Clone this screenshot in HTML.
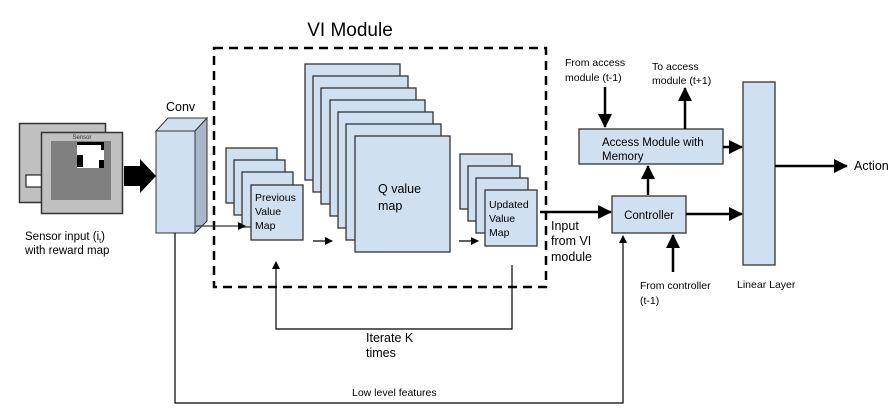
<!DOCTYPE html>
<html><head><meta charset="utf-8"><style>
html,body{margin:0;padding:0;background:#fff;}
svg{display:block;font-family:"Liberation Sans",sans-serif;}
</style></head><body>
<svg width="895" height="416" viewBox="0 0 895 416" xmlns="http://www.w3.org/2000/svg">
<defs>
<marker id="a" markerWidth="8" markerHeight="8" refX="7" refY="4" orient="auto" markerUnits="userSpaceOnUse"><path d="M0,0 L8,4 L0,8 z" fill="#000"/></marker>
<marker id="b" markerWidth="14" markerHeight="14" refX="13" refY="7" orient="auto" markerUnits="userSpaceOnUse"><path d="M0,0 L14,7 L0,14 z" fill="#000"/></marker>
</defs>
<!-- sensor -->
<rect x="19.5" y="123.5" width="86" height="79" fill="#c0c0c0" stroke="#333" stroke-width="1.5"/>
<rect x="26" y="175" width="16" height="12" fill="#fff" stroke="#000"/>
<rect x="41.5" y="132.5" width="81" height="81" fill="#c0c0c0" stroke="#333" stroke-width="1.5"/>
<rect x="51" y="141" width="60" height="59" fill="#808080"/>
<text x="82" y="139" font-size="6" text-anchor="middle" fill="#333">Sensor</text>
<rect x="77" y="142" width="27" height="26" fill="#fff"/>
<rect x="77" y="142" width="27" height="3" fill="#000"/>
<rect x="77" y="155" width="6" height="12" fill="#000"/>
<rect x="99" y="160" width="5" height="8" fill="#000"/>
<rect x="101" y="142" width="3" height="8" fill="#000"/>
<text x="25" y="240" font-size="11.5" fill="#000">Sensor input (i<tspan font-size="7" dy="3">t</tspan><tspan dy="-3">)</tspan></text>
<text x="25" y="254" font-size="11.5" fill="#000">with reward map</text>
<!-- big arrow -->
<path d="M124,166 L140,166 L140,159 L156,176 L140,193 L140,186 L124,186 z" fill="#000"/>
<!-- conv -->
<text x="166" y="111" font-size="12.5">Conv</text>
<path d="M156,131 L168,118 L207,118 L195,131 z" fill="#cfe0f1" stroke="#333"/>
<path d="M195,131 L207,118 L207,221 L195,233 z" fill="#a9b8c8" stroke="#333"/>
<rect x="156" y="131" width="39" height="102" fill="#cfe0f1" stroke="#333"/>
<!-- dashed box -->
<rect x="214" y="48" width="332" height="239" fill="none" stroke="#000" stroke-width="2.5" stroke-dasharray="9,6"/>
<text x="350" y="36" font-size="19" text-anchor="middle">VI Module</text>
<!-- previous stack -->
<g fill="#cfe0f1" stroke="#333" stroke-width="1.3">
<rect x="226" y="148" width="51" height="55"/>
<rect x="234" y="160" width="51" height="55"/>
<rect x="242" y="172" width="51" height="55"/>
<rect x="251" y="185" width="52" height="55"/>
</g>
<text font-size="10.5"><tspan x="255" y="201">Previous</tspan><tspan x="255" y="215">Value</tspan><tspan x="255" y="229">Map</tspan></text>
<line x1="196" y1="226" x2="245" y2="226" stroke="#333" stroke-width="1.2" marker-end="url(#a)"/>
<line x1="313" y1="241" x2="332" y2="241" stroke="#000" stroke-width="1.2" marker-end="url(#a)"/>
<!-- Q stack -->
<g fill="#cfe0f1" stroke="#333" stroke-width="1.3">
<rect x="305" y="64" width="95" height="116"/>
<rect x="313" y="76" width="95" height="116"/>
<rect x="321" y="88" width="95" height="116"/>
<rect x="330" y="100" width="95" height="116"/>
<rect x="338" y="112" width="95" height="116"/>
<rect x="346" y="124" width="95" height="116"/>
<rect x="355" y="136" width="95" height="116"/>
</g>
<text font-size="12.5"><tspan x="378" y="193">Q value</tspan><tspan x="378" y="210">map</tspan></text>
<line x1="459" y1="241" x2="478" y2="241" stroke="#000" stroke-width="1.2" marker-end="url(#a)"/>
<!-- updated stack -->
<g fill="#cfe0f1" stroke="#333" stroke-width="1.3">
<rect x="460" y="154" width="52" height="55"/>
<rect x="468" y="166" width="52" height="55"/>
<rect x="476" y="178" width="52" height="55"/>
<rect x="485" y="190" width="52" height="56"/>
</g>
<text font-size="10.5"><tspan x="489" y="208">Updated</tspan><tspan x="489" y="222">Value</tspan><tspan x="489" y="236">Map</tspan></text>
<!-- iterate loop -->
<polyline points="512,265 512,329 276,329 276,262" fill="none" stroke="#000" stroke-width="1.2" marker-end="url(#a)"/>
<text font-size="12.5"><tspan x="366" y="342">Iterate K</tspan><tspan x="366" y="357">times</tspan></text>
<!-- low level -->
<polyline points="175,233 175,403 623,403 623,236" fill="none" stroke="#000" stroke-width="1.2" marker-end="url(#a)"/>
<text x="352" y="396" font-size="10.5">Low level features</text>
<!-- input from VI -->
<line x1="540" y1="212" x2="611" y2="212" stroke="#000" stroke-width="2.5" marker-end="url(#b)"/>
<text font-size="12.5"><tspan x="551" y="230">Input</tspan><tspan x="551" y="245">from VI</tspan><tspan x="551" y="261">module</tspan></text>
<!-- access & controller -->
<rect x="579" y="129" width="144" height="35" fill="#cfe0f1" stroke="#333" stroke-width="1.3"/>
<text font-size="11.5"><tspan x="602" y="146">Access Module with</tspan><tspan x="602" y="160">Memory</tspan></text>
<rect x="612" y="196" width="74" height="37" fill="#cfe0f1" stroke="#333" stroke-width="1.3"/>
<text x="649" y="219" font-size="11.5" text-anchor="middle">Controller</text>
<line x1="605" y1="87" x2="605" y2="127" stroke="#000" stroke-width="2.5" marker-end="url(#b)"/>
<line x1="685" y1="129" x2="685" y2="88" stroke="#000" stroke-width="2.5" marker-end="url(#b)"/>
<line x1="648" y1="195" x2="648" y2="166" stroke="#000" stroke-width="2.5" marker-end="url(#b)"/>
<line x1="673" y1="272" x2="673" y2="235" stroke="#000" stroke-width="2.5" marker-end="url(#b)"/>
<line x1="723" y1="147" x2="742" y2="147" stroke="#000" stroke-width="2.5" marker-end="url(#b)"/>
<line x1="686" y1="214" x2="742" y2="214" stroke="#000" stroke-width="2.5" marker-end="url(#b)"/>
<text font-size="10.5"><tspan x="565" y="66">From access</tspan><tspan x="565" y="81">module (t-1)</tspan></text>
<text font-size="10.5"><tspan x="652" y="70">To access</tspan><tspan x="652" y="84">module (t+1)</tspan></text>
<text font-size="10.5"><tspan x="640" y="289">From controller</tspan><tspan x="640" y="304">(t-1)</tspan></text>
<!-- linear layer -->
<rect x="743" y="82" width="32" height="183" fill="#cfe0f1" stroke="#333" stroke-width="1.3"/>
<text x="737" y="288" font-size="10.5">Linear Layer</text>
<line x1="775" y1="166" x2="847" y2="166" stroke="#000" stroke-width="2.5" marker-end="url(#b)"/>
<text x="854" y="170" font-size="12.5">Action</text>
</svg>
</body></html>
